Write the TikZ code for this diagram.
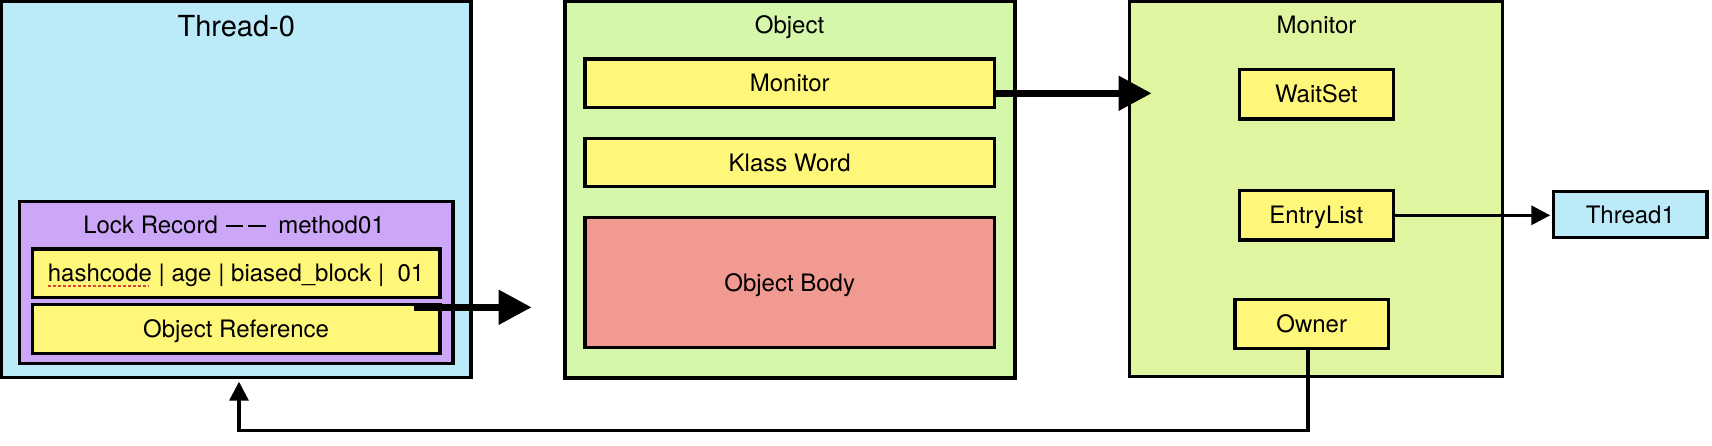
\documentclass[tikz,border=0pt]{standalone}
\usepackage{fontspec}
\setmainfont{TeX Gyre Heros}
\usetikzlibrary{arrows.meta}
\definecolor{tblue}{HTML}{BBEAF8}
\definecolor{ogreen}{HTML}{D4F7AC}
\definecolor{mgreen}{HTML}{DFF59F}
\definecolor{fyellow}{HTML}{FFF77A}
\definecolor{lpurple}{HTML}{CCA6F7}
\definecolor{bodyred}{HTML}{F19A91}
\definecolor{squig}{HTML}{E0403A}
\newcommand{\lrdash}[1]{\rule[6.6pt]{#1}{2pt}}
\begin{document}
\begin{tikzpicture}[x=1pt,y=-1pt,
  font=\fontsize{24}{28}\selectfont,
  box/.style={draw=black, line width=3.3pt, inner sep=0pt, outer sep=0pt,
    text height=17.2pt, text depth=0pt, align=center},
  ttl/.style={inner sep=0pt, outer sep=0pt, text height=17.2pt, text depth=0pt},
  bigttl/.style={inner sep=0pt, outer sep=0pt, font=\fontsize{29}{34}\selectfont,
    text height=20.8pt, text depth=0pt},
  bigarrow/.style={line width=7.5pt, -{Triangle[length=33pt,width=33pt]}},
  thinarrow/.style={line width=3.3pt, -{Triangle[length=19pt,width=19pt]}}
]
\useasboundingbox (0,0) rectangle (1712,446);

% Thread-0
\node[box, fill=tblue, minimum width=469.3, minimum height=376] (thread0) at (236.3,189.7) {};
\node[bigttl] (t0title) at (236.3,25.8) {Thread-0};
\node[box, fill=lpurple, minimum width=433.3, minimum height=162.4] (lockrec) at (236.3,282.5) {};
\node[ttl] (lrtitle) at (234,224.7) {Lock Record\hspace{8pt}\lrdash{17.5pt}\hspace{5pt}\lrdash{18pt}\hspace{12pt}method01};
\node[box, fill=fyellow, minimum width=407.8, minimum height=48.7] (hash) at (236.1,273.3) {hashcode | age | biased\_block |\ \ 01};
\node[box, fill=fyellow, minimum width=407.8, minimum height=48.6] (objref) at (236.1,329) {Object Reference};
\draw[squig, line width=1.8pt, dash pattern=on 3pt off 2pt] (48.3,285.7) -- (149,285.7);

% Object
\node[box, fill=ogreen, minimum width=450, minimum height=376.5] (object) at (790,189.8) {};
\node[ttl] (objtitle) at (789.5,25) {Object};
\node[box, fill=fyellow, minimum width=409.3, minimum height=48.7] (objmon) at (789.7,83.3) {Monitor};
\node[box, fill=fyellow, minimum width=409.3, minimum height=48.4] (klass) at (789.7,162.5) {Klass Word};
\node[box, fill=bodyred, minimum width=409.3, minimum height=130] (body) at (789.7,282.7) {Object Body};

% Monitor
\node[box, fill=mgreen, minimum width=373.4, minimum height=375] (monitor) at (1316,189) {};
\node[ttl] (montitle) at (1316.5,25) {Monitor};
\node[box, fill=fyellow, minimum width=154, minimum height=49.7] (waitset) at (1316.3,94.2) {WaitSet};
\node[box, fill=fyellow, minimum width=154, minimum height=49.3] (entry) at (1316.3,215.3) {EntryList};
\node[box, fill=fyellow, minimum width=153.3, minimum height=49] (owner) at (1311.7,323.8) {Owner};

% Thread1
\node[box, fill=tblue, minimum width=153.3, minimum height=46] (thread1) at (1630.3,214.7) {Thread1};

% connectors
\coordinate (refout) at (414.3,307.3);
\coordinate (refin) at (531.7,307.3);
\draw[bigarrow] (refout) -- (refin);

\coordinate (monin) at (1151.7,93.3);
\draw[bigarrow] (objmon.east |- monin) -- (monin);

\draw[thinarrow, shorten >=3.4pt] (entry.east) -- (entry.east -| thread1.west);

\coordinate (ownbot) at (1308,430.5);
\coordinate (t0in) at (239,381.7);
\draw[thinarrow] (owner.south -| ownbot) -- (ownbot) -| (t0in);
\end{tikzpicture}
\end{document}
